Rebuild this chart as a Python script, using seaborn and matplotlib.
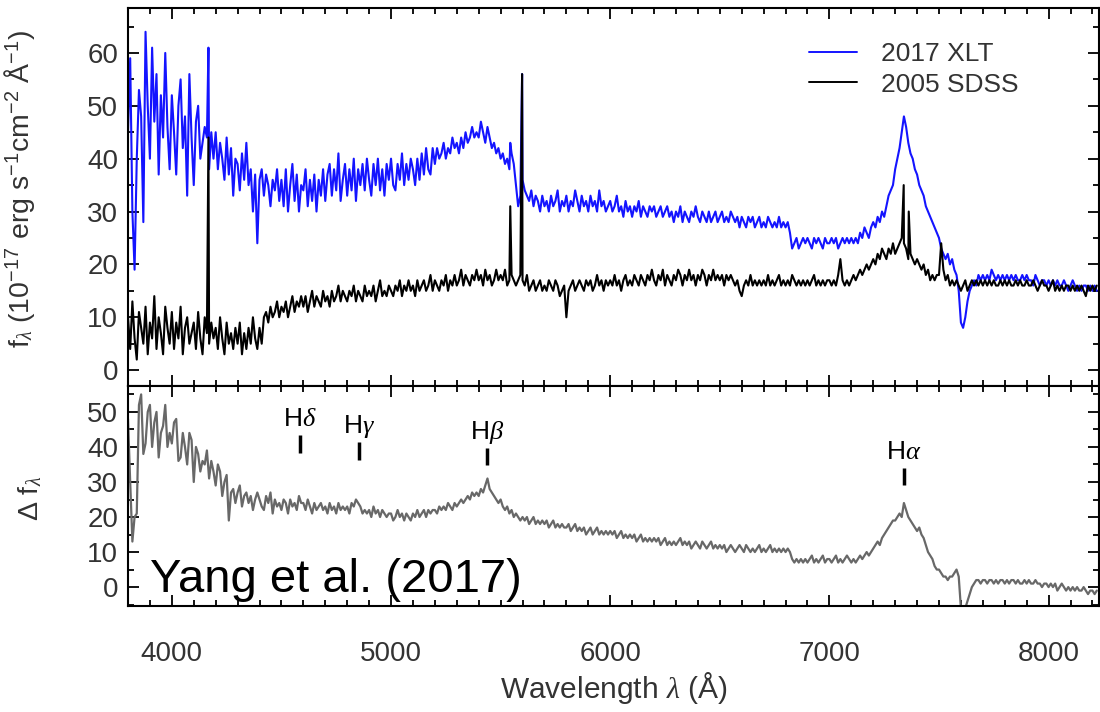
import numpy as np
import pandas as pd
import matplotlib
matplotlib.use("Agg")
import matplotlib.pyplot as plt
from matplotlib.ticker import MultipleLocator
import seaborn as sns

# ---------------- data ----------------
wave_start, wave_stop, wave_step = 3800, 8220, 10   # sampling grid of the spectra (Angstrom)

xlt_flux = [
    45, 59, 30, 19, 40, 53, 48, 28, 64, 50,
    40, 61, 47, 56, 37, 52, 44, 60, 46, 38,
    52, 45, 37, 50, 55, 42, 48, 33, 56, 44,
    35, 47, 50, 40, 43, 46, 44, 38, 45, 40,
    45, 38, 43, 40, 36, 44, 37, 42, 33, 40,
    39, 34, 41, 36, 43, 35, 38, 30, 37, 24,
    36, 38, 33, 37, 35, 31, 36, 34, 38, 32,
    36, 31, 38, 30, 35, 39, 32, 37, 30, 35,
    34, 38, 31, 36, 32, 37, 30, 36, 33, 38,
    32, 37, 39, 33, 38, 34, 41, 32, 36, 39,
    33, 38, 34, 40, 32, 38, 35, 39, 34, 40,
    36, 33, 39, 35, 40, 34, 38, 33, 39, 36,
    40, 35, 34, 39, 36, 41, 35, 39, 36, 40,
    38, 35, 40, 36, 41, 37, 42, 38, 37, 42,
    39, 42, 40, 41, 43, 40, 42, 41, 44, 42,
    43, 41, 44, 42, 45, 43, 44, 46, 44, 45,
    44, 47, 45, 43, 46, 44, 42, 43, 41, 42,
    40, 41, 39, 40, 38, 41, 39, 35, 31, 33,
    36, 34, 33, 32, 34, 31, 33, 32, 30, 33,
    31, 32, 30, 33, 31, 32, 34, 30, 32, 31,
    33, 30, 32, 31, 34, 32, 30, 33, 31, 32,
    30, 33, 31, 32, 30, 34, 31, 32, 30, 31,
    32, 30, 31, 33, 30, 31, 29, 32, 30, 31,
    29, 31, 30, 32, 29, 31, 30, 29, 31, 30,
    31, 29, 30, 31, 29, 30, 31, 29, 30, 28,
    30, 29, 31, 28, 30, 29, 28, 30, 29, 31,
    29, 28, 30, 29, 28, 30, 28, 29, 30, 28,
    29, 30, 28, 29, 28, 30, 29, 28, 29, 27,
    29, 28, 27, 29, 28, 29, 27, 28, 29, 27,
    28, 27, 29, 28, 27, 28, 27, 29, 27, 28,
    27, 28, 26, 23, 24, 25, 23, 24, 25, 24,
    25, 24, 23, 25, 24, 25, 24, 23, 25, 24,
    24, 25, 24, 25, 23, 24, 25, 24, 25, 24,
    25, 24, 25, 24, 26, 25, 27, 26, 25, 27,
    28, 27, 29, 28, 30, 29, 31, 33, 34, 35,
    38, 40, 42, 45, 48, 46, 43, 41, 40, 38,
    37, 35, 34, 33, 31, 30, 29, 28, 27, 26,
    25, 23, 22, 21, 22, 20, 21, 19, 18, 15,
    9, 8, 10, 13, 15, 16, 17, 16, 18, 17,
    18, 17, 18, 17, 19, 18, 17, 18, 17, 18,
    17, 18, 17, 18, 17, 18, 17, 17, 18, 17,
    18, 17, 17, 16, 18, 17, 16, 17, 17, 16,
    17, 16, 17, 16, 17, 16, 16, 17, 16, 15,
    16, 17, 16, 15, 16, 15, 16, 16, 15, 16,
    15, 16, 15,
]

sdss_flux = [
    10, 4, 13, 6, 2, 11, 8, 5, 12, 3,
    9, 6, 14, 4, 10, 7, 3, 12, 8, 5,
    11, 4, 9, 6, 12, 3, 8, 10, 5, 7,
    9, 4, 11, 6, 3, 10, 7, 5, 9, 6,
    8, 4, 10, 6, 3, 9, 5, 7, 4, 8,
    5, 9, 3, 7, 4, 8, 5, 10, 6, 4,
    8, 5, 10, 11, 9, 12, 10, 11, 13, 10,
    12, 11, 13, 10, 12, 14, 11, 13, 12, 14,
    12, 14, 11, 13, 15, 12, 14, 13, 12, 15,
    13, 14, 12, 15, 13, 14, 16, 13, 15, 14,
    13, 15, 14, 16, 13, 15, 14, 13, 16, 14,
    15, 14, 16, 13, 15, 17, 14, 15, 14, 16,
    15, 14, 16, 15, 17, 14, 16, 15, 17, 15,
    16, 14, 17, 15, 16, 17, 15, 16, 18, 15,
    17, 16, 15, 17, 16, 18, 15, 17, 16, 18,
    16, 17, 19, 16, 18, 17, 16, 18, 17, 19,
    17, 18, 16, 19, 17, 18, 16, 17, 19, 17,
    18, 17, 19, 16, 17, 18, 17, 16, 17, 18,
    17, 16, 18, 15, 16, 17, 15, 16, 17, 15,
    16, 15, 17, 16, 15, 17, 16, 14, 15, 16,
    10, 15, 16, 17, 15, 16, 17, 16, 15, 17,
    16, 17, 15, 16, 18, 16, 17, 15, 17, 16,
    17, 16, 18, 16, 17, 15, 17, 18, 16, 17,
    16, 18, 17, 16, 18, 17, 16, 18, 17, 19,
    17, 16, 18, 17, 19, 16, 18, 17, 16, 18,
    17, 19, 18, 16, 18, 17, 19, 17, 18, 16,
    18, 17, 19, 18, 16, 18, 17, 19, 17, 18,
    17, 18, 16, 18, 17, 18, 17, 16, 17, 15,
    14, 16, 17, 16, 18, 16, 17, 16, 17, 16,
    17, 16, 18, 16, 17, 16, 17, 18, 16, 17,
    16, 17, 16, 18, 17, 16, 17, 16, 17, 16,
    17, 16, 17, 18, 16, 17, 16, 17, 16, 17,
    17, 16, 17, 16, 18, 21, 17, 16, 17, 16,
    17, 18, 17, 18, 19, 18, 19, 20, 19, 20,
    21, 20, 22, 21, 23, 22, 21, 23, 22, 24,
    22, 23, 24, 25, 24, 23, 21, 22, 21, 20,
    21, 20, 19, 20, 18, 19, 17, 18, 17, 18,
    18, 24, 19, 17, 18, 16, 17, 16, 17, 16,
    15, 16, 17, 15, 16, 17, 16, 17, 16, 17,
    16, 17, 16, 17, 16, 17, 16, 16, 17, 16,
    17, 16, 17, 16, 16, 17, 16, 17, 16, 16,
    17, 16, 16, 17, 16, 15, 16, 17, 16, 16,
    15, 16, 17, 15, 16, 15, 16, 15, 16, 16,
    15, 16, 15, 16, 15, 16, 15, 14, 16, 15,
    16, 15, 16,
]

delta_flux = [
    48, 30, 13, 20, 21, 52, 55, 38, 41, 50,
    52, 40, 47, 50, 37, 44, 46, 52, 40, 44,
    41, 47, 48, 36, 37, 44, 40, 35, 44, 42,
    30, 40, 38, 33, 36, 35, 39, 31, 36, 33,
    29, 35, 33, 26, 30, 32, 19, 27, 28, 24,
    27, 29, 23, 26, 27, 24, 26, 22, 25, 27,
    25, 23, 22, 26, 24, 27, 21, 25, 23, 24,
    22, 25, 24, 21, 25, 23, 24, 22, 26, 24,
    24, 22, 25, 23, 21, 24, 22, 23, 24, 22,
    23, 21, 24, 22, 23, 21, 24, 22, 23, 22,
    23, 21, 24, 23, 25, 24, 23, 21, 22, 21,
    22, 20, 23, 21, 22, 20, 22, 21, 20, 21,
    21, 19, 20, 22, 20, 21, 19, 21, 20, 19,
    21, 20, 22, 20, 21, 22, 20, 22, 21, 22,
    22, 21, 23, 22, 23, 22, 24, 23, 22, 24,
    23, 24, 25, 24, 25, 26, 25, 27, 26, 27,
    26, 28, 27, 29, 31, 28, 27, 26, 25, 24,
    25, 23, 22, 23, 21, 22, 20, 21, 20, 19,
    20, 19, 20, 18, 19, 20, 18, 19, 18, 19,
    18, 19, 17, 18, 19, 17, 18, 17, 18, 17,
    17, 18, 16, 17, 18, 16, 17, 16, 17, 15,
    16, 17, 15, 16, 17, 15, 16, 15, 16, 15,
    16, 15, 16, 14, 15, 16, 14, 15, 14, 15,
    14, 15, 13, 14, 15, 13, 14, 13, 14, 13,
    14, 13, 14, 12, 13, 14, 12, 13, 12, 13,
    12, 13, 14, 12, 13, 12, 13, 11, 12, 13,
    12, 11, 13, 12, 11, 12, 13, 11, 12, 11,
    12, 11, 12, 10, 11, 12, 11, 10, 11, 12,
    11, 10, 12, 11, 10, 11, 10, 11, 12, 10,
    11, 10, 11, 12, 10, 11, 10, 11, 10, 11,
    10, 11, 10, 8, 7, 8, 7, 8, 7, 8,
    7, 8, 9, 7, 8, 7, 8, 9, 7, 8,
    8, 7, 8, 9, 7, 8, 7, 8, 9, 8,
    7, 8, 7, 8, 9, 8, 9, 10, 9, 10,
    11, 12, 13, 12, 14, 15, 16, 17, 18, 19,
    19, 20, 21, 20, 24, 22, 20, 19, 18, 17,
    16, 17, 15, 14, 12, 10, 9, 8, 6, 5,
    5, 4, 3, 3, 2, 3, 3, 4, 5, 3,
    -6, -6, -6, -4, -2, 0, 1, 2, 2, 1,
    2, 2, 1, 2, 2, 1, 2, 1, 2, 2,
    1, 2, 1, 2, 2, 1, 2, 1, 1, 2,
    1, 2, 1, 1, 2, 1, 1, 0, 1, 1,
    0, 1, 0, 1, -1, 0, 1, 0, -1, 0,
    -1, 0, -1, 0, -1, -1, 0, -1, -2, -1,
    -1, -2, -1,
]

# narrow emission lines (observed wavelength, peak flux)
xlt_line_wave = [4167, 5544, 5598]
xlt_line_flux = [61, 43, 56]
sdss_line_wave = [4167, 5544, 5598, 7339, 7362]
sdss_line_flux = [44, 31, 56, 35, 30]

# Balmer line markers in the lower panel
balmer_names = [r"H$\delta$", r"H$\gamma$", r"H$\beta$", r"H$\alpha$"]
balmer_wave = [4586, 4852, 5436, 7339]

series_names = ["2017 XLT", "2005 SDSS"]
x_ticks = [4000, 5000, 6000, 7000, 8000]

# ---------------- styling ----------------
sns.set_style("ticks")
plt.rcParams["font.family"] = ["Liberation Sans", "DejaVu Sans"]
plt.rcParams["mathtext.fontset"] = "custom"
plt.rcParams["mathtext.rm"] = "Liberation Sans"
plt.rcParams["mathtext.it"] = "Liberation Serif:italic"
plt.rcParams["mathtext.bf"] = "Liberation Sans:bold"

TXT = "#333333"
BLUE = "#1414ff"
GRAY = "#686868"
FS = 20

wave = np.arange(wave_start, wave_stop + 1, wave_step)

df_xlt = pd.DataFrame({"wave": np.concatenate([wave, xlt_line_wave]),
                       "flux": np.concatenate([xlt_flux, xlt_line_flux]),
                       "spectrum": series_names[0]})
df_sdss = pd.DataFrame({"wave": np.concatenate([wave, sdss_line_wave]),
                        "flux": np.concatenate([sdss_flux, sdss_line_flux]),
                        "spectrum": series_names[1]})
top_df = pd.concat([df_xlt, df_sdss], ignore_index=True)
bot_df = pd.DataFrame({"wave": wave, "delta": delta_flux})

fig = plt.figure(figsize=(11, 7.12), dpi=100)
gs = fig.add_gridspec(2, 1, height_ratios=[378, 220], hspace=0,
                      left=128 / 1100, right=1099 / 1100,
                      top=1 - 8 / 712, bottom=1 - 606 / 712)
ax1 = fig.add_subplot(gs[0])
ax2 = fig.add_subplot(gs[1], sharex=ax1)

sns.lineplot(data=top_df, x="wave", y="flux", hue="spectrum",
             hue_order=series_names, palette=[BLUE, "black"],
             estimator=None, sort=True, lw=1.5, ax=ax1)
sns.lineplot(data=bot_df, x="wave", y="delta", color=GRAY,
             estimator=None, lw=1.6, ax=ax2)

ax1.set_xlim(3800, 8230)
ax1.set_ylim(-3, 68.5)
ax2.set_ylim(-5.4, 57.4)

for ax in (ax1, ax2):
    ax.xaxis.set_major_locator(MultipleLocator(1000))
    ax.xaxis.set_minor_locator(MultipleLocator(100))
    ax.yaxis.set_major_locator(MultipleLocator(10))
    ax.yaxis.set_minor_locator(MultipleLocator(5))
    ax.tick_params(which="both", direction="in", top=True, right=True,
                   colors="black", labelcolor=TXT, labelsize=FS, width=1.3)
    ax.tick_params(which="major", length=8)
    ax.tick_params(which="minor", length=4)
    ax.tick_params(axis="y", pad=7)
    for s in ax.spines.values():
        s.set_linewidth(1.5)
        s.set_color("black")

ax1.tick_params(axis="x", labelbottom=False)
ax2.tick_params(axis="x", pad=25)
ax2.set_xticks(x_ticks)
ax1.set_yticks(range(0, 61, 10))
ax2.set_yticks(range(0, 51, 10))

ax1.set_xlabel("")
ax1.set_ylabel(r"f$_\lambda$ (10$^{-17}$ erg s$^{-1}$cm$^{-2}$ Å$^{-1}$)",
               fontsize=20.5, color=TXT)
ax1.yaxis.set_label_coords(-0.094, 0.52)
ax2.set_ylabel(r"$\Delta$ f$_\lambda$", fontsize=20.5, color=TXT)
ax2.yaxis.set_label_coords(-0.086, 0.49)
ax2.set_xlabel(r"Wavelength $\lambda$ (Å)", fontsize=21.5, color=TXT, labelpad=2)

handles, labels = ax1.get_legend_handles_labels()
leg = ax1.legend(handles, labels, loc="upper left", bbox_to_anchor=(0.701, 0.91),
                 frameon=False, fontsize=19, handlelength=1.85, handletextpad=0.9,
                 labelspacing=0.25, borderpad=0, borderaxespad=0)
for t in leg.get_texts():
    t.set_color(TXT)
for h in leg.legend_handles:
    h.set_linewidth(1.4)

# Balmer markers: short ticks just above the features, labels above them
mark_lo = [38.3, 36.3, 34.9, 29.1]
mark_hi = [43.4, 41.4, 39.7, 34.0]
for name, w, lo, hi in zip(balmer_names, balmer_wave, mark_lo, mark_hi):
    ax2.vlines(w, lo, hi, color="black", lw=2.5)
    ax2.text(w, hi + 2.6, name, ha="center", va="baseline", fontsize=19, color="black")

ax2.text(0.0227, 0.064, "Yang et al. (2017)", transform=ax2.transAxes,
         ha="left", va="baseline", fontsize=34, color="black")

fig.savefig("out.png", dpi=100)
